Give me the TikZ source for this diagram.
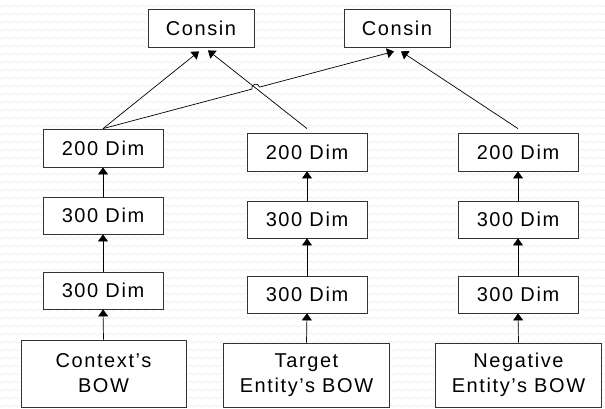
\documentclass[tikz,border=0pt]{standalone}
\usepackage{fontspec}
\setmainfont{Liberation Sans}
\newfontfamily\boxfont[LetterSpace=8]{Liberation Sans}
\usetikzlibrary{arrows.meta,calc,intersections,decorations.pathmorphing}
\begin{document}
\begin{tikzpicture}[x=1pt,y=1pt,
  box/.style={draw=black!80, line width=0.8pt, fill=white, minimum width=120pt,
    minimum height=38pt, inner sep=0pt, font=\boxfont\fontsize{20}{25}\selectfont},
  wide/.style={box, minimum width=166pt, minimum height=64pt, align=center},
  link/.style={line width=0.7pt, -{Triangle[length=7pt,width=10pt]}},
  bgwave/.style={draw=black!9, line width=0.5pt, decorate,
    decoration={snake, segment length=8pt, amplitude=1.2pt}}]
\useasboundingbox (0,0) rectangle (605,408);
% faint wavy backdrop
\foreach \r in {0,...,51} \draw[bgwave] (-4,\r*8+2) -- (609,\r*8+2);

% similarity nodes
\node[box, minimum width=106pt] (cL) at (201,380) {Consin};
\node[box, minimum width=106pt] (cR) at (397,380) {Consin};

% context column
\node[box] (l3) at (103,260) {200 Dim};
\node[box, minimum height=37pt] (l2) at (103,192.5) {300 Dim};
\node[box, minimum height=37pt] (l1) at (103,117.5) {300 Dim};
\node[wide, minimum width=165pt, minimum height=67pt] (lb) at (103.5,34.5) {Context’s\\BOW};

% target entity column
\node[box] (m3) at (307,256) {200 Dim};
\node[box, minimum height=37pt] (m2) at (307,188.5) {300 Dim};
\node[box, minimum height=37pt] (m1) at (307,113.5) {300 Dim};
\node[wide] (mb) at (306.5,33) {Target\\Entity’s BOW};

% negative entity column
\node[box] (r3) at (518,256) {200 Dim};
\node[box, minimum height=37pt] (r2) at (518,188.5) {300 Dim};
\node[box, minimum height=37pt] (r1) at (518,113.5) {300 Dim};
\node[wide] (rb) at (518.5,33) {Negative\\Entity’s BOW};

% stacked layers
\foreach \a/\b in {lb/l1,l1/l2,l2/l3,mb/m1,m1/m2,m2/m3,rb/r1,r1/r2,r2/r3}
  \draw[link] (\a.north) -- (\b.south);

% connector ends
\coordinate (tL1) at ([xshift=-2pt,yshift=-4pt]cL.south);
\coordinate (tL2) at ([xshift=7pt,yshift=-3pt]cL.south);
\coordinate (tR1) at ([xshift=-3pt,yshift=-4pt]cR.south);
\coordinate (tR2) at ([xshift=4pt,yshift=-4pt]cR.south);
\coordinate (sM) at ([yshift=4pt]m3.north);
\coordinate (sR) at ([yshift=4pt]r3.north);

\draw[link] (l3.north) -- (tL1);
\draw[link, name path=cross] (sM) -- (tL2);
\draw[link] (sR) -- (tR2);

% context to second similarity, hopping over the crossing line
\path[name path=long] (l3.north) -- (tR1);
\path[name intersections={of=cross and long, by=j}];
\draw[link] (l3.north) -- ($(j)!4pt!(l3.north)$)
  to[bend left=90, looseness=1.7] ($(j)!4pt!(tR1)$) -- (tR1);
\end{tikzpicture}
\end{document}
